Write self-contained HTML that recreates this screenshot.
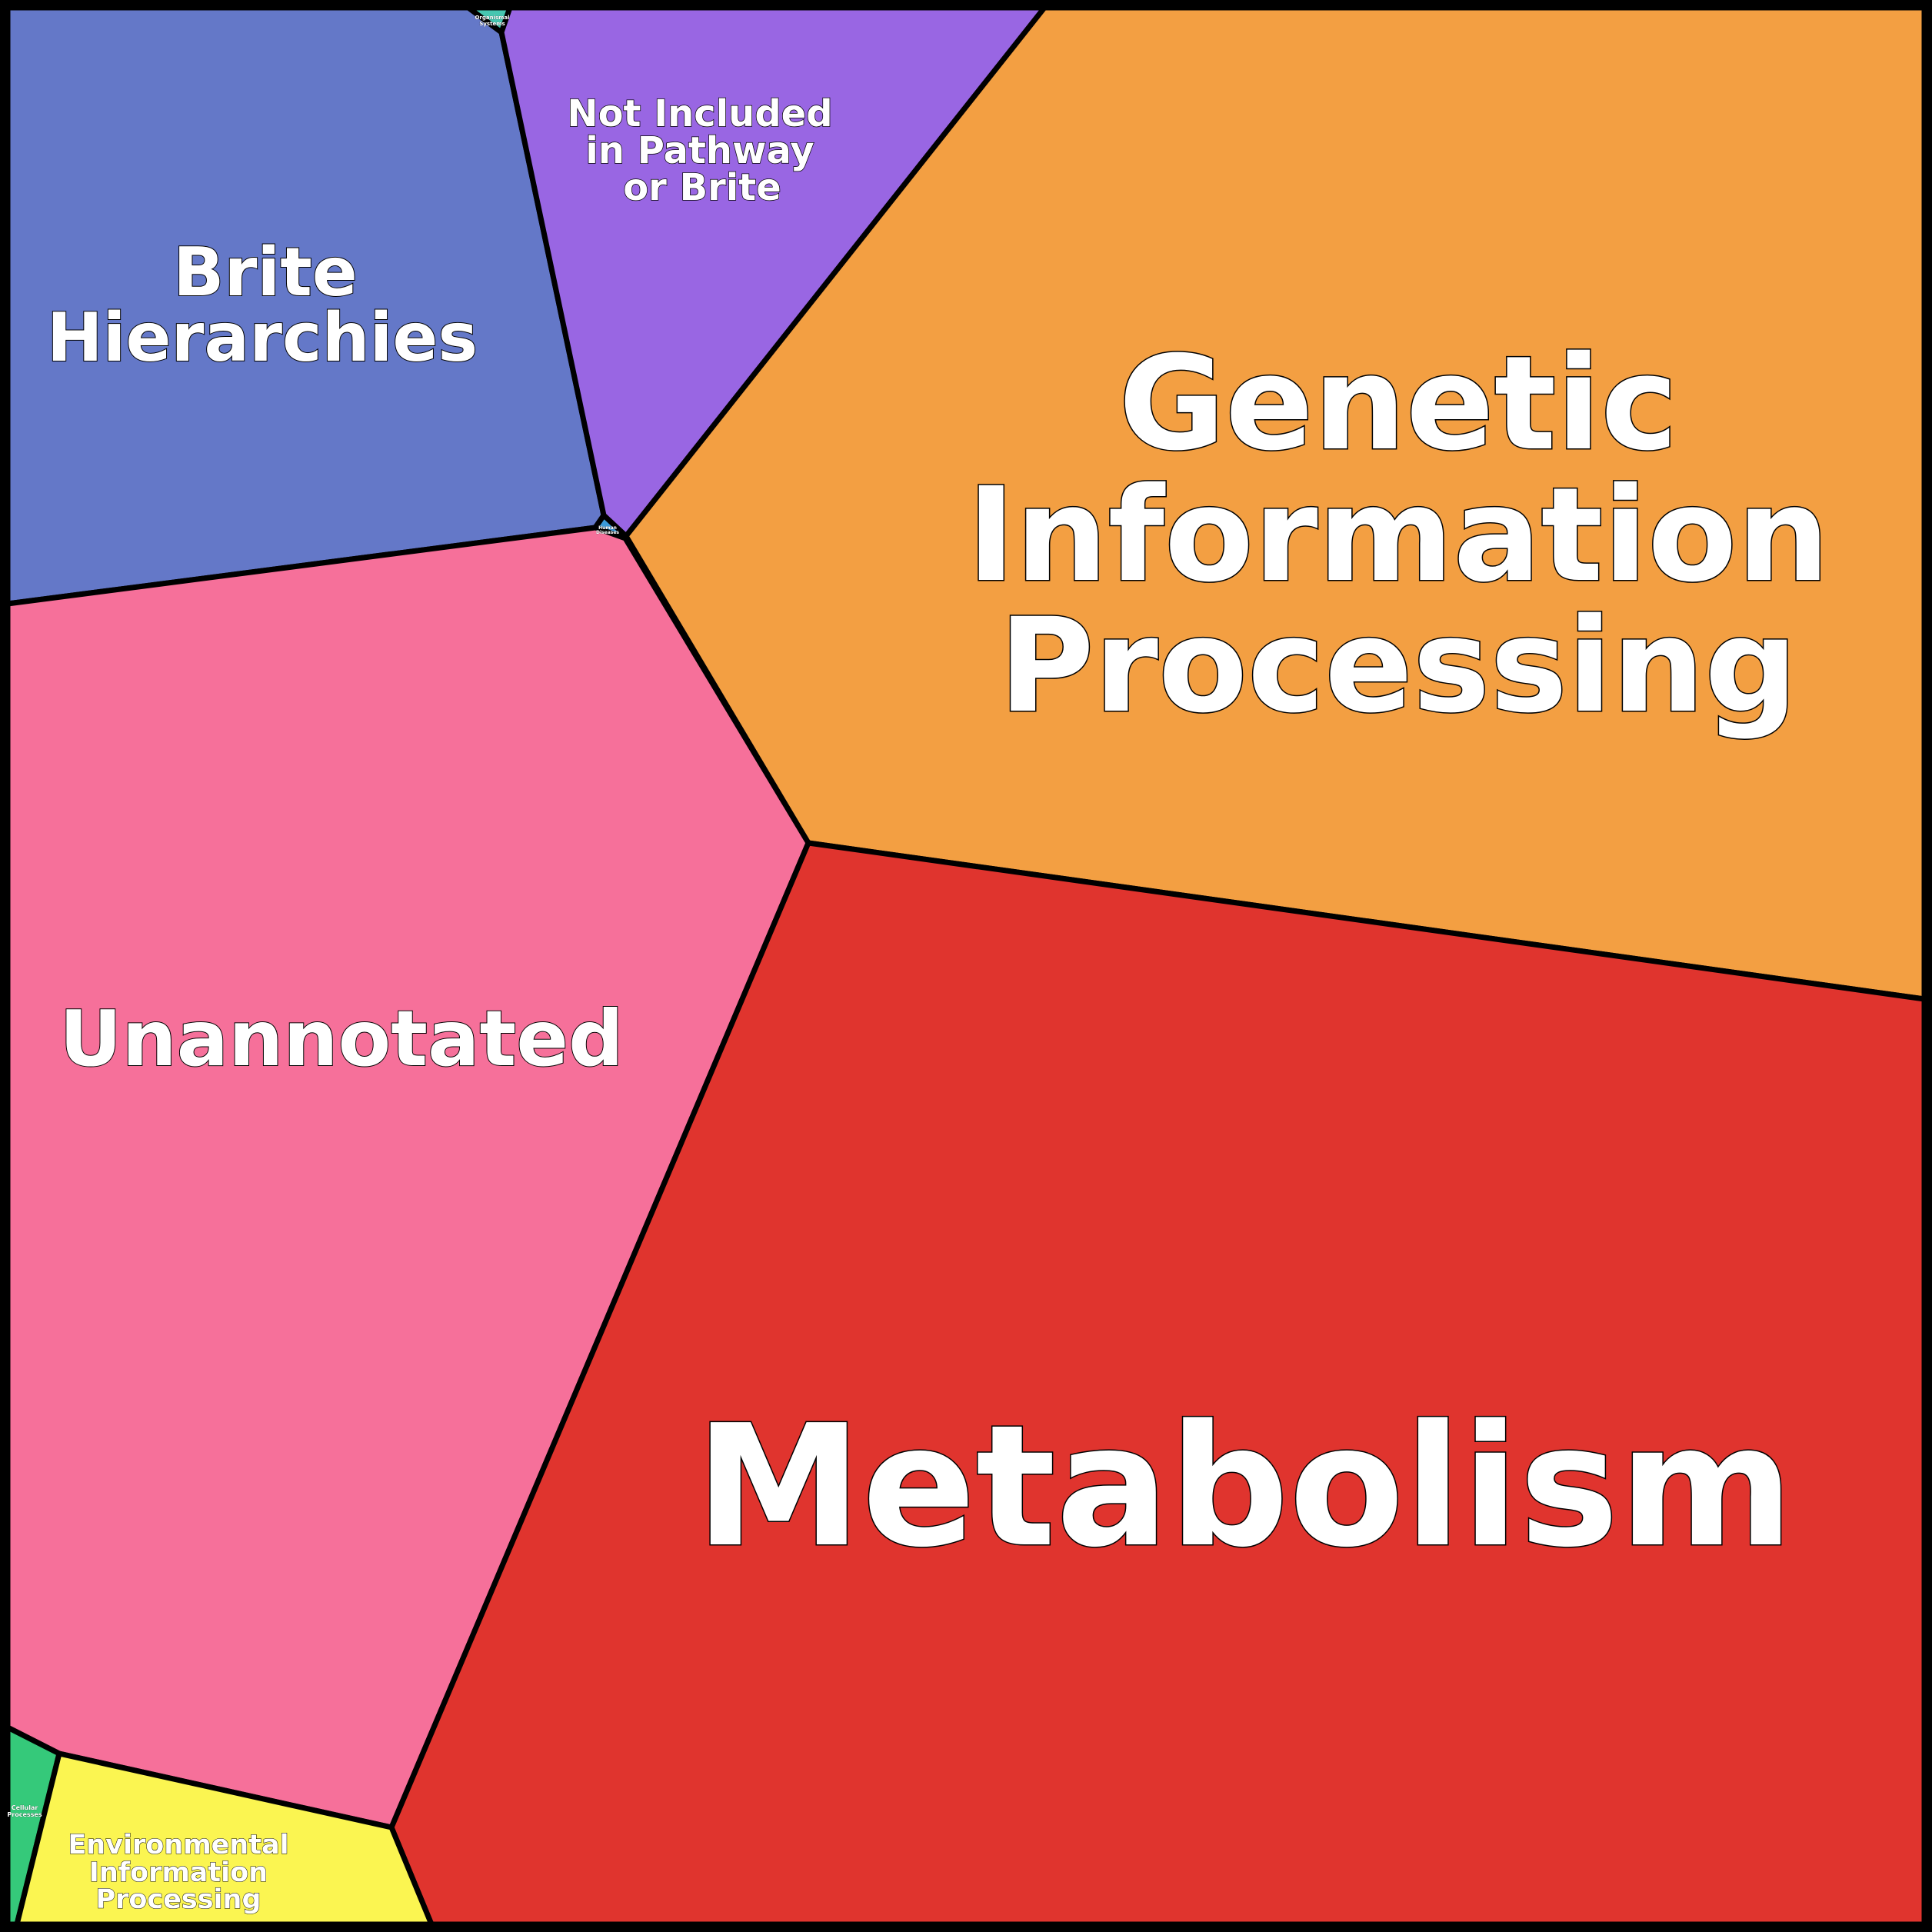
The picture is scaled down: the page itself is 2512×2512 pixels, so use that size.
<!DOCTYPE html>
<html><head><meta charset="utf-8"><style>
html,body{margin:0;padding:0;background:#000}
svg{display:block}
text{font-family:"DejaVu Sans","Liberation Sans",sans-serif;font-weight:bold;fill:#fff;stroke:#000;paint-order:stroke;text-anchor:middle}
</style></head><body>
<svg width="2512" height="2512" viewBox="0 0 2512 2512" xmlns="http://www.w3.org/2000/svg">
<rect x="0" y="0" width="2512" height="2512" fill="#000"/>
<g stroke="#000" stroke-width="7" stroke-linejoin="round">
<polygon points="10,10 609,10 652,42 785,670 774,686 10,785" fill="#6478c8"/>
<polygon points="609,10 663,10 652,42" fill="#46c6b0"/>
<polygon points="663,10 1358,10 814,697 785,670 652,42" fill="#9966e3"/>
<polygon points="1358,10 2502,10 2502,1299 1051,1096 814,697" fill="#f39f42"/>
<polygon points="785,670 814,697 813,700 774,686" fill="#3a9ad9"/>
<polygon points="10,785 774,686 813,700 1051,1096 509,2376 77,2280 10,2246" fill="#f6709a"/>
<polygon points="1051,1096 2502,1299 2502,2502 561,2502 509,2376" fill="#e0342e"/>
<polygon points="10,2246 77,2280 22,2502 10,2502" fill="#35c97a"/>
<polygon points="77,2280 509,2376 561,2502 22,2502" fill="#fbf551"/>
</g>
<rect x="6" y="6" width="2500" height="2500" fill="none" stroke="#000" stroke-width="12"/>
<text font-size="218" stroke-width="3" x="1618" y="2008">Metabolism</text>
<text font-size="169" stroke-width="3" x="1818" y="583">Genetic</text>
<text font-size="169" stroke-width="3" x="1818" y="754">Information</text>
<text font-size="169" stroke-width="3" x="1818" y="924">Processing</text>
<text font-size="87" stroke-width="2" x="345" y="384">Brite</text>
<text font-size="87" stroke-width="2" x="341" y="469">Hierarchies</text>
<text font-size="48" stroke-width="1.5" x="910" y="164">Not Included</text>
<text font-size="48" stroke-width="1.5" x="910" y="212">in Pathway</text>
<text font-size="48" stroke-width="1.5" x="913" y="260">or Brite</text>
<text font-size="100" stroke-width="2" x="444" y="1385">Unannotated</text>
<text font-size="35" stroke-width="1" x="232" y="2410">Environmental</text>
<text font-size="35" stroke-width="1" x="232" y="2446">Information</text>
<text font-size="35" stroke-width="1" x="232" y="2481">Processing</text>
<text font-size="7" stroke-width="0.3" x="640" y="25">Organismal</text>
<text font-size="7" stroke-width="0.3" x="640" y="33">Systems</text>
<text font-size="6" stroke-width="0.3" x="790" y="688">Human</text>
<text font-size="6" stroke-width="0.3" x="790" y="694">Diseases</text>
<text font-size="8" stroke-width="0.3" x="32" y="2353">Cellular</text>
<text font-size="8" stroke-width="0.3" x="32" y="2362">Processes</text>
</svg>
</body></html>
